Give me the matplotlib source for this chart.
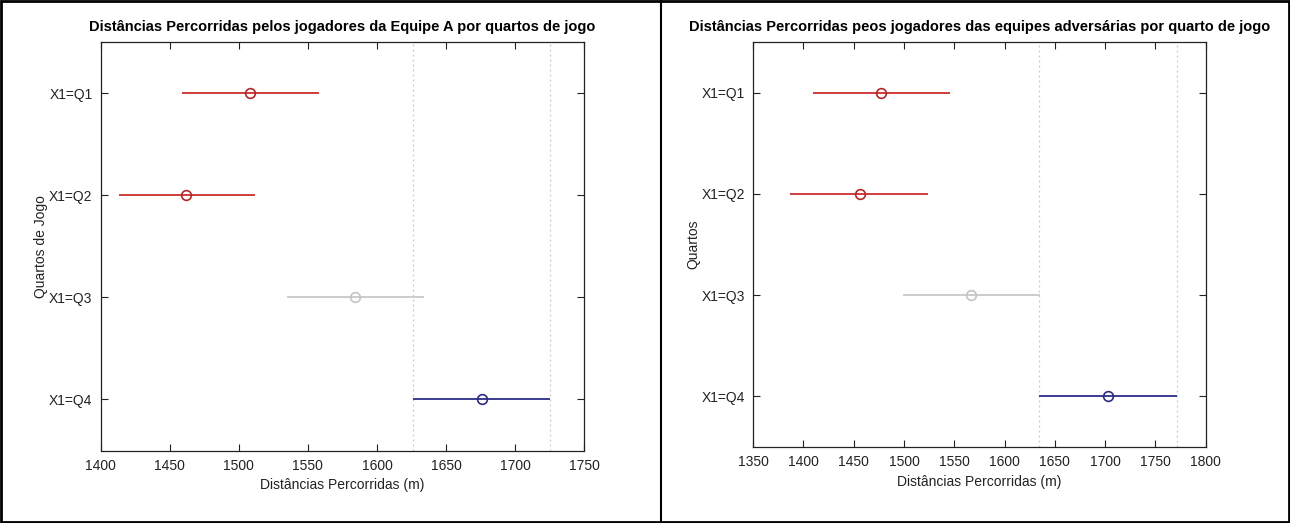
import matplotlib
matplotlib.use("Agg")
import matplotlib.pyplot as plt
from matplotlib.patches import Rectangle
from matplotlib.lines import Line2D

# ---- data ----
categories = ["X1=Q1", "X1=Q2", "X1=Q3", "X1=Q4"]

# Equipe A: group means and comparison-interval bounds
means_a = [1508, 1462, 1584, 1676]
low_a = [1459, 1413, 1535, 1626]
high_a = [1558, 1512, 1634, 1725]

# Adversárias
means_b = [1477, 1456, 1567, 1703]
low_b = [1409, 1387, 1499, 1634]
high_b = [1546, 1524, 1635, 1771]

xticks_a = [1400, 1450, 1500, 1550, 1600, 1650, 1700, 1750]
xticks_b = [1350, 1400, 1450, 1500, 1550, 1600, 1650, 1700, 1750, 1800]

title_a = "Distâncias Percorridas pelos jogadores da Equipe A por quartos de jogo"
title_b = "Distâncias Percorridas peos jogadores das equipes adversárias por quarto de jogo"
xlabel = "Distâncias Percorridas (m)"
ylabel_a = "Quartos de Jogo"
ylabel_b = "Quartos"

# colour per group: significantly different (red), not (grey), selected (blue)
line_colors = ["#d03c3c", "#d03c3c", "#cccccc", "#3c3c90"]
marker_colors = ["#b02828", "#b02828", "#c4c4c4", "#2c2c80"]

plt.rcParams["font.family"] = ["Liberation Sans", "DejaVu Sans"]

fig = plt.figure(figsize=(12.9, 5.23), dpi=100)

# outer borders / panel divider
fig.add_artist(Rectangle((0.0008, 0.0015), 0.9984, 0.997, transform=fig.transFigure,
                         fill=False, edgecolor="black", linewidth=2))
fig.add_artist(Line2D([661 / 1290, 661 / 1290], [0, 1], transform=fig.transFigure,
                      color="black", linewidth=1.5))


def panel(rect, means, low, high, xticks, title, ylabel):
    ax = fig.add_axes(rect)
    ys = list(range(1, len(categories) + 1))
    for i, y in enumerate(ys):
        ax.plot([low[i], high[i]], [y, y], color=line_colors[i], lw=1.4,
                solid_capstyle="butt", zorder=3)
        ax.plot([means[i]], [y], marker="o", ms=7, mfc="none",
                mec=marker_colors[i], mew=1.2, zorder=4)
    sel = len(categories) - 1
    for xv in (low[sel], high[sel]):
        ax.axvline(xv, color="#c8c8c8", lw=0.9, ls=(0, (1.5, 2.5)), zorder=1)
    ax.set_xlim(xticks[0], xticks[-1])
    ax.set_ylim(4.5, 0.5)
    ax.set_xticks(xticks)
    ax.set_yticks(ys)
    ax.set_yticklabels(categories)
    ax.tick_params(direction="in", length=5, width=0.8, top=True, right=True,
                   labelsize=10, colors="#222222", pad=6)
    for s in ax.spines.values():
        s.set_linewidth(0.9)
        s.set_color("#222222")
    ax.set_title(title, fontsize=10.5, fontweight="bold", pad=8,
                 family=["Liberation Sans Narrow", "Liberation Sans", "DejaVu Sans"])
    ax.set_xlabel(xlabel, fontsize=10, color="#222222", labelpad=4)
    ax.set_ylabel(ylabel, fontsize=10, color="#222222", labelpad=1)
    return ax


panel([100.8 / 1290, 1 - 450.5 / 523, (584.1 - 100.8) / 1290, (450.5 - 42) / 523],
      means_a, low_a, high_a, xticks_a, title_a, ylabel_a)
panel([753.2 / 1290, 1 - 447 / 523, (1205.7 - 753.2) / 1290, (447 - 42) / 523],
      means_b, low_b, high_b, xticks_b, title_b, ylabel_b)

fig.savefig("out.png", dpi=100, facecolor="white")
